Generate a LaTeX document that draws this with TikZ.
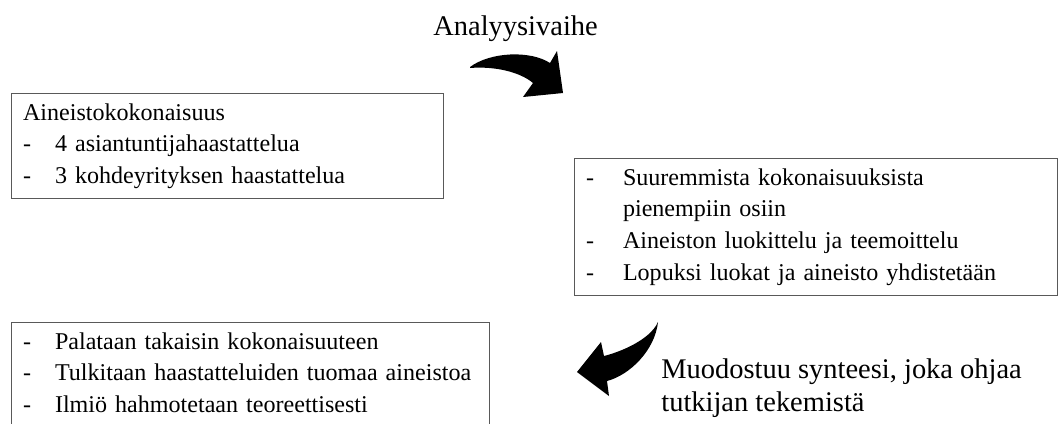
\documentclass[tikz,border=0pt]{standalone}
\usepackage{fontspec}
\setmainfont{Liberation Serif}
\tikzset{
	box/.style={
		draw=black!65,
		line width=0.6pt,
		align=left,
		anchor=north west,
		inner xsep=0.23cm,
		inner ysep=0.2cm,
		font=\fontsize{13.7}{18}\selectfont,
	},
	caption/.style={
		inner sep=0pt,
		align=left,
		font=\fontsize{16.2}{18.8}\selectfont,
	},
	bigarrow/.style={
		fill=black,
		draw=none,
	}
}
\newcommand{\kohta}[2][0.64cm]{\makebox[#1][l]{-}#2}
\newcommand{\alastrut}{\rule[-0.5cm]{0pt}{0pt}}

\begin{document}
\begin{tikzpicture}[x=0.02cm, y=-0.02cm]
	\useasboundingbox (0,0) rectangle (1058,423);
	\clip (0,0) rectangle (1058,423);
	
	% --- Boxes ---
	\node[box, text width=8.18cm] (aineisto) at (11,93)
	{Aineistokokonaisuus\\
	 \kohta{4 asiantuntijahaastattelua}\\
	 \kohta{3 kohdeyrityksen haastattelua}};
	\node[box, text width=9.2cm] (pilkkominen) at (574,158)
	{\kohta[0.74cm]{Suuremmista kokonaisuuksista}\\
	 \hspace*{0.74cm}pienempiin osiin\\
	 \kohta[0.74cm]{Aineiston luokittelu ja teemoittelu}\\
	 \kohta[0.74cm]{Lopuksi luokat ja aineisto yhdistetään}};
	\node[box, text width=9.1cm] (synteesi) at (11,322)
	{\kohta{Palataan takaisin kokonaisuuteen}\\
	 \kohta{Tulkitaan haastatteluiden tuomaa aineistoa}\\
	 \kohta{Ilmiö hahmotetaan teoreettisesti}\alastrut};
	
	% --- Labels ---
	\node[caption, anchor=base west] (vaihe) at (433,35) {Analyysivaihe};
	\node[caption, anchor=north west] (ohjaus) at (661,358)
	{Muodostuu synteesi, joka ohjaa\\tutkijan tekemistä};
	
	% --- Curved arrows ---
	\fill[bigarrow] (470,67) .. controls (490,52) and (530,50) .. (550,63)
		-- (557,51) -- (563,93) -- (523,97) -- (533,83)
		.. controls (520,72) and (495,66) .. (470,68) -- cycle;
	\fill[bigarrow] (658,322) .. controls (650,340) and (620,352) .. (604,356)
		-- (601,342) -- (577,372) -- (609,396) -- (607,381)
		.. controls (630,375) and (655,350) .. (658,322) -- cycle;
\end{tikzpicture}
\end{document}
